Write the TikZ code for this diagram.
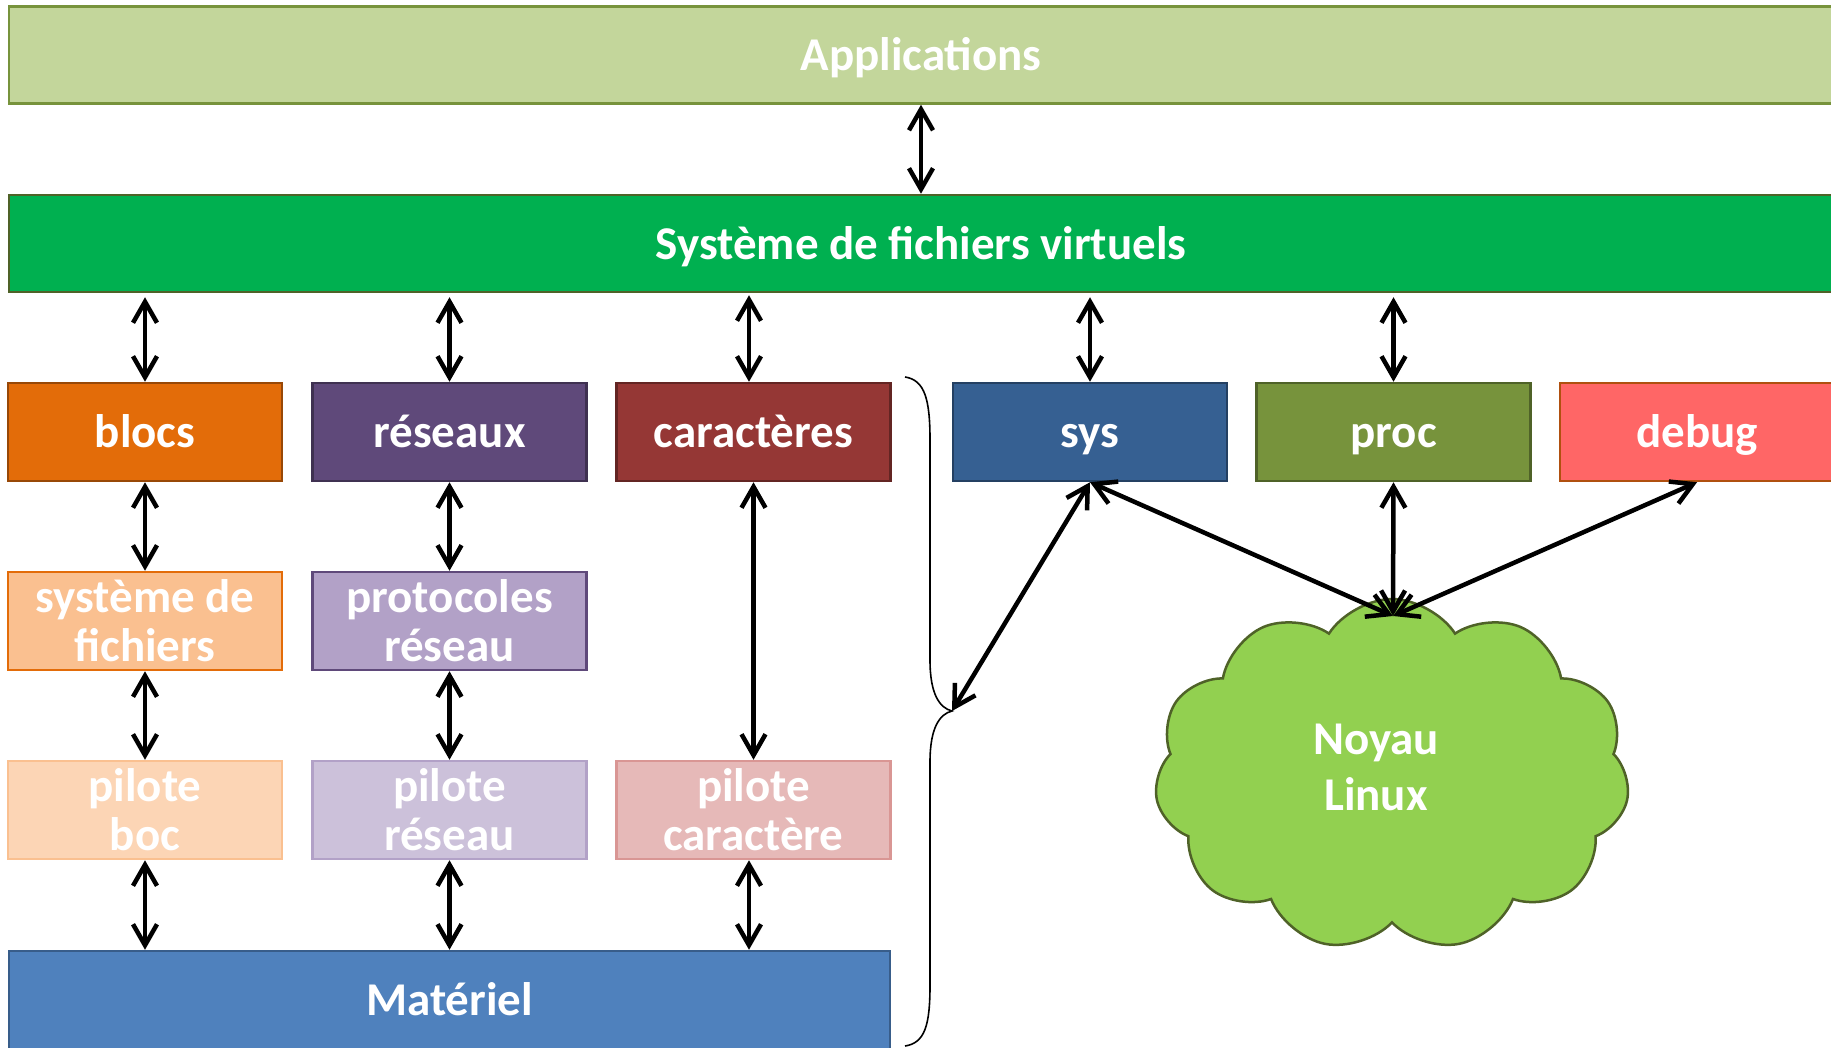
\documentclass[tikz,border=0pt]{standalone}
\usepackage{fontspec}
\setmainfont{Carlito}
\usetikzlibrary{arrows.meta,shapes.symbols}
\newcommand\bstrut{\rule[-0.27em]{0pt}{1.22em}}
\definecolor{appF}{HTML}{C3D69B}\definecolor{appD}{HTML}{77933C}
\definecolor{vfsF}{HTML}{00B050}\definecolor{vfsD}{HTML}{4F6228}
\definecolor{blocF}{HTML}{E36C09}\definecolor{blocD}{HTML}{984807}
\definecolor{resF}{HTML}{5F497A}\definecolor{resD}{HTML}{3F3151}
\definecolor{carF}{HTML}{953735}\definecolor{carD}{HTML}{632523}
\definecolor{sysF}{HTML}{366092}\definecolor{sysD}{HTML}{244062}
\definecolor{procF}{HTML}{77933C}\definecolor{procD}{HTML}{4F6228}
\definecolor{dbgF}{HTML}{FF6666}\definecolor{dbgD}{HTML}{B0500F}
\definecolor{sfF}{HTML}{FAC090}\definecolor{sfD}{HTML}{E36C09}
\definecolor{prF}{HTML}{B2A1C7}\definecolor{prD}{HTML}{5F497A}
\definecolor{pbF}{HTML}{FCD5B5}\definecolor{pbD}{HTML}{FAC090}
\definecolor{prsF}{HTML}{CCC1DA}\definecolor{prsD}{HTML}{B2A1C7}
\definecolor{pcF}{HTML}{E6B9B8}\definecolor{pcD}{HTML}{D99694}
\definecolor{matF}{HTML}{4F81BD}\definecolor{matD}{HTML}{385D8A}
\definecolor{clF}{HTML}{92D050}\definecolor{clD}{HTML}{4F6228}
\tikzset{
  box/.style={draw=#1D, fill=#1F, line width=2.5pt, text=white, align=center,
    font=\fontsize{47}{49}\selectfont\bfseries, inner sep=0pt,
    minimum width=274pt, minimum height=98pt},
  wide/.style={minimum width=1824pt, minimum height=97pt},
  link/.style={line width=4.5pt, {Straight Barb[length=21pt,width=24pt,line width=4.5pt]}-{Straight Barb[length=21pt,width=24pt,line width=4.5pt]}},
  brace/.style={line width=1.6pt}
}
\begin{document}
\begin{tikzpicture}[x=1pt,y=-1pt]
\useasboundingbox (0,0) rectangle (1831,1048);
\clip (0,0) rectangle (1831,1048);
\node[box=app, wide] (app) at (921,55) {\bstrut Applications};
\node[box=vfs, wide] (vfs) at (921,243.5) {\bstrut Système de fichiers virtuels};
\node[box=bloc] (blocs) at (145,432) {\bstrut blocs};
\node[box=res] (res) at (449.5,432) {\bstrut réseaux};
\node[box=car] (car) at (753.5,432) {\bstrut caractères};
\node[box=sys] (sys) at (1090,432) {\bstrut sys};
\node[box=proc] (proc) at (1393.5,432) {\bstrut proc};
\node[box=dbg] (dbg) at (1697,432) {\bstrut debug};
\node[box=sf] (sf) at (145,621) {système de\\fichiers};
\node[box=pr] (pr) at (449.5,621) {protocoles\\réseau};
\node[box=pb] (pb) at (145,810) {pilote\\boc};
\node[box=prs] (prs) at (449.5,810) {pilote\\réseau};
\node[box=pc] (pc) at (753.5,810) {pilote\\caractère};
\node[box=mat, minimum width=881pt] (mat) at (449.5,1000) {\bstrut Matériel};
\node[cloud, cloud puffs=11, cloud puff arc=115, aspect=1.35, draw=clD, fill=clF,
  line width=2.5pt, minimum width=475pt, minimum height=352pt] (kern) at (1392,775) {};
\node[text=white, align=center, font=\fontsize{47}{56}\selectfont\bfseries] (kernlbl) at (1376,767) {Noyau\\Linux};
\coordinate (tip) at (952,711);
\coordinate (ktop) at (1393,616);
\draw[link] (app.south) -- (vfs.north);
\foreach \n in {blocs,res,sys,proc}{
  \draw[link] ([yshift=-4pt]vfs.south -| \n.north) -- (\n.north);
}
\draw[link] ([xshift=-4.5pt,yshift=-2pt]vfs.south -| car.north) -- ([xshift=-4.5pt]car.north);
\draw[link] (blocs.south) -- (sf.north);
\draw[link] (res.south) -- (pr.north);
\draw[link] (car.south) -- (pc.north);
\draw[link] (sf.south) -- (pb.north);
\draw[link] (pr.south) -- (prs.north);
\draw[link] (pb.south) -- (mat.north -| pb.south);
\draw[link] (prs.south) -- (mat.north -| prs.south);
\draw[link] ([xshift=-4.5pt]pc.south) -- ([xshift=-4.5pt]mat.north -| pc.south);
\draw[link] (sys.south) -- (tip);
\draw[link] (sys.south) -- (ktop);
\draw[link] (proc.south) -- (ktop);
\draw[link] (dbg.south) -- (ktop);
\draw[brace] (905,377) .. controls (925,380) and (930,400) .. (930,440)
  -- (930,660) .. controls (930,695) and (940,708) .. (tip)
  .. controls (940,714) and (930,727) .. (930,762)
  -- (930,985) .. controls (930,1025) and (925,1043) .. (905,1046);
\end{tikzpicture}
\end{document}
